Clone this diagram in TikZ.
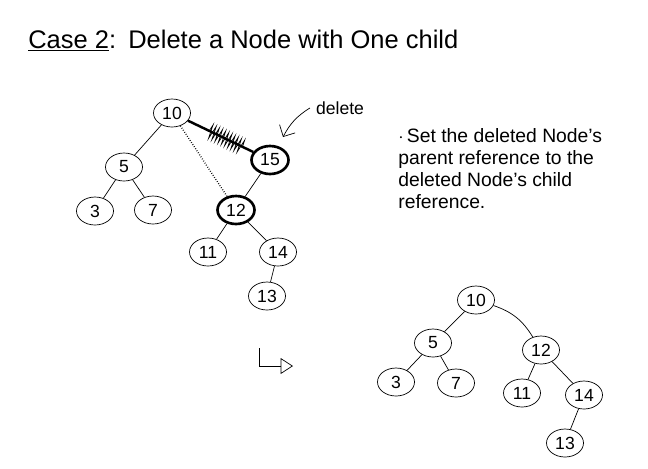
\documentclass[tikz,border=0pt]{standalone}
\usepackage{fontspec}
\setmainfont{Liberation Sans}
\usetikzlibrary{shapes.geometric, positioning, calc, decorations.pathmorphing, arrows.meta}

\begin{document}
\begin{tikzpicture}[
          x=0.02cm, y=-0.02cm,
          key/.style={draw, ellipse, thin, minimum width=0.74cm, minimum height=0.56cm, inner sep=0pt, font=\normalsize},
          gone/.style={key, line width=1.5pt},
          link/.style={draw, thin},
          note/.style={font=\fontsize{11}{12.5}\selectfont, align=left, inner sep=0pt}
        ]
          \useasboundingbox (0,0) rectangle (648,468);
          \node[anchor=base west, inner sep=0pt, font=\fontsize{14.5}{16}\selectfont] (case) at (28,48) {\underline{Case 2}:};
          \node[anchor=base west, inner sep=0pt, font=\fontsize{14.5}{16}\selectfont] (title) at (128,48) {Delete a Node with One child};

          \node[key] (a10) at (172,113) {10};
          \node[key] (a5) at (124,167) {5};
          \node[key] (a3) at (95,211) {3};
          \node[key] (a7) at (153,210) {7};
          \node[gone] (a15) at (270,160) {15};
          \node[gone] (a12) at (236,210) {12};
          \node[key] (a11) at (208,252) {11};
          \node[key] (a14) at (278,252) {14};
          \node[key] (a13) at (267,296) {13};
          \draw[link] (a10) -- (a5);
          \draw[link] (a5) -- (a3);
          \draw[link] (a5) -- (a7);
          \draw[line width=1.4pt] (a10) -- (a15);
          \draw[decorate, decoration={zigzag, amplitude=4pt, segment length=2pt}]
            ($(a10)!0.38!(a15)$) -- ($(a10)!0.72!(a15)$);
          \draw[link, densely dotted, thick] (a10) -- (a12);
          \draw[link] (a15) -- (a12);
          \draw[link] (a12) -- (a11);
          \draw[link] (a12) -- (a14);
          \draw[link] (a14) -- (a13);

          \node[font=\normalsize] (del) at (340,108) {delete};
          \coordinate (tip) at (283,137);
          \draw[-{Straight Barb[length=5pt]}] (del.west) to[bend right=15] (tip);

          \node[note, anchor=north west] (rule) at (398,128) {$\cdot$\,Set the deleted Node's\\parent reference to the\\deleted Node's child\\reference.};

          \coordinate (hookA) at (259,348);
          \coordinate (hookB) at (293,366);
          \draw[-{Triangle[open, length=7pt, width=9pt]}] (hookA) |- (hookB);

          \node[key] (b10) at (476,300) {10};
          \node[key] (b5) at (433,343) {5};
          \node[key] (b3) at (396,382) {3};
          \node[key] (b7) at (456,383) {7};
          \node[key] (b12) at (541,350) {12};
          \node[key] (b11) at (522,393) {11};
          \node[key] (b14) at (584,395) {14};
          \node[key] (b13) at (565,443) {13};
          \draw[link] (b10) -- (b5);
          \draw[link] (b5) -- (b3);
          \draw[link] (b5) -- (b7);
          \draw[link] (b10) to[bend left=20] (b12);
          \draw[link] (b12) -- (b11);
          \draw[link] (b12) -- (b14);
          \draw[link] (b14) -- (b13);
        \end{tikzpicture}
\end{document}
